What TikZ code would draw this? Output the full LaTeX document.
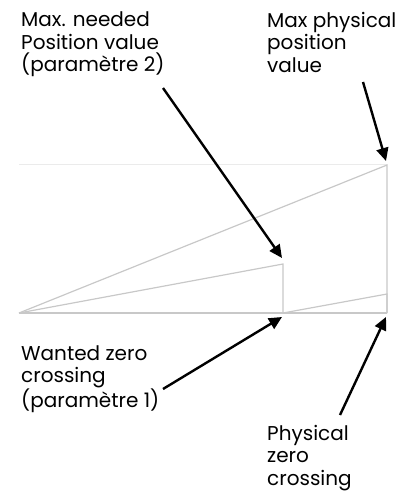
\documentclass[tikz,border=0pt]{standalone}
\usepackage{fontspec}
\setmainfont{Poppins}
\usetikzlibrary{arrows.meta}
\definecolor{rampgray}{RGB}{200,200,200}
\definecolor{limitgray}{RGB}{235,235,235}

\begin{document}
\begin{tikzpicture}[
        x=1pt, y=-1pt,
        label/.style={inner sep=0, anchor=north west, align=left, font=\fontsize{20}{22.5}\selectfont},
        ramp/.style={rampgray, line width=1.2pt},
        pointer/.style={-{Triangle[length=13pt, width=12pt]}, line width=2.4pt}
    ]
        \useasboundingbox (0,0) rectangle (412,497);

        % Points of the graph
        \coordinate (origin) at (19,313);
        \coordinate (wantzero) at (283,313);
        \coordinate (physzero) at (387,313);
        \coordinate (neededmax) at (283,264);
        \coordinate (physmax) at (387,165);
        \coordinate (physlow) at (387,294);

        % Limit line
        \draw[limitgray, line width=0.8pt] (19,164) -- (387,164);

        % Ramps
        \draw[ramp] (origin) -- (physzero);
        \draw[ramp] (origin) -- (physmax) -- (physzero);
        \draw[ramp] (origin) -- (neededmax) -- (wantzero);
        \draw[ramp] (wantzero) -- (physlow) -- (physzero);

        % Labels
        \node[label] (needed) at (21,12) {Max. needed\\Position value\\(paramètre 2)};
        \node[label] (physical) at (267,12) {Max physical\\position\\value};
        \node[label] (wanted) at (21,345) {Wanted zero\\crossing\\(paramètre 1)};
        \node[label] (physzerotxt) at (267,425) {Physical\\zero\\crossing};

        % Pointer starts
        \coordinate (p1) at (163,88);
        \coordinate (p2) at (363,82);
        \coordinate (p3) at (163,389);
        \coordinate (p4) at (340,415);

        % Arrows
        \draw[pointer] (p1) -- (282,258);
        \draw[pointer] (p2) -- (386,161);
        \draw[pointer] (p3) -- (282,317);
        \draw[pointer] (p4) -- (386,317);

    \end{tikzpicture}
\end{document}
